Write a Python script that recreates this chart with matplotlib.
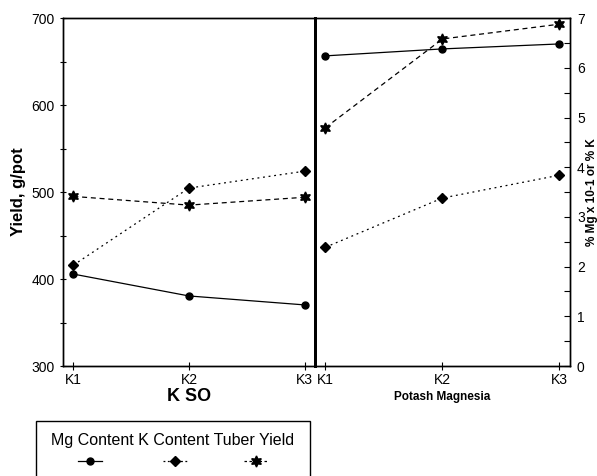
import matplotlib.pyplot as plt
from matplotlib.lines import Line2D
from matplotlib.patches import Rectangle
from matplotlib.ticker import MultipleLocator

plt.rcParams['font.family'] = ['Liberation Sans', 'DejaVu Sans']

niveles = ['K1', 'K2', 'K3']
x = [0, 1, 2]

# panel izquierdo: K SO
mg_kso = [1.85, 1.41, 1.23]
k_kso = [2.03, 3.58, 3.92]
tuber_kso = [495, 485, 494]

# panel derecho: Potash Magnesia
mg_pm = [6.24, 6.38, 6.48]
k_pm = [2.39, 3.38, 3.84]
tuber_pm = [574, 676, 693]

fig = plt.figure(figsize=(5.97, 4.76), dpi=100)
ax1 = fig.add_axes([0.1055, 0.231, 0.422, 0.731])
ax2 = fig.add_axes([0.5275, 0.231, 0.4273, 0.731])
t1 = ax1.twinx()
t2 = ax2.twinx()

estilos = dict(color='black', lw=0.9)
for ax, tw, mg, k, tub in [(ax1, t1, mg_kso, k_kso, tuber_kso), (ax2, t2, mg_pm, k_pm, tuber_pm)]:
    tw.plot(x, mg, '-', marker='o', ms=5, **estilos)
    tw.plot(x, k, linestyle=(0, (1.5, 3)), marker='D', ms=5.5, **estilos)
    ax.plot(x, tub, linestyle=(0, (4, 3)), marker=(6, 1, 0), ms=8, **estilos)
    ax.set_xlim(-0.09, 2.09)
    ax.set_ylim(300, 700)
    tw.set_ylim(0, 7)
    ax.set_xticks(x)
    ax.set_xticklabels(niveles, fontsize=10)
    ax.tick_params(axis='x', direction='inout', length=6, width=0.8, pad=2)
    for s in list(ax.spines.values()) + list(tw.spines.values()):
        s.set_linewidth(1.0)

# eje izquierdo
ax1.yaxis.set_major_locator(MultipleLocator(100))
ax1.yaxis.set_minor_locator(MultipleLocator(50))
ax1.tick_params(axis='y', which='both', direction='inout', length=5, width=0.8, labelsize=10)
ax1.set_ylabel('Yield, g/pot', fontsize=12, fontweight='bold', labelpad=4)
t1.set_yticks([])
t1.spines['right'].set_linewidth(2)

# eje derecho
ax2.set_yticks([])
ax2.spines['left'].set_linewidth(2)
t2.yaxis.set_major_locator(MultipleLocator(1))
t2.yaxis.set_minor_locator(MultipleLocator(0.5))
t2.tick_params(axis='y', which='both', direction='in', length=4, width=0.8, labelsize=10, pad=5)
t2.set_ylabel('% Mg x 10-1 or % K', fontsize=8.5, fontweight='bold', labelpad=1)

ax1.set_xlabel('K SO', fontsize=13, fontweight='bold', labelpad=1)
ax2.set_xlabel('Potash Magnesia', fontsize=8.5, fontweight='bold', labelpad=3)

# leyenda
fig.patches.append(Rectangle((36 / 597, -0.05), 274 / 597, 0.05 + 55 / 476,
                             transform=fig.transFigure, fill=False, lw=1.0, ec='black'))
fig.text(173 / 597, 1 - 440 / 476, 'Mg Content K Content Tuber Yield',
         ha='center', va='center', fontsize=11.5)
legend_items = [('-', 'o', 5, 90), ((0, (1.5, 2)), 'D', 5.5, 175), ((0, (2, 2)), (6, 1, 0), 8, 256)]
for ls, mk, ms, cx in legend_items:
    fig.lines.append(Line2D([(cx - 12) / 597, (cx + 12) / 597], [1 - 461 / 476] * 2,
                            transform=fig.transFigure, color='black', lw=0.9, linestyle=ls))
    fig.lines.append(Line2D([cx / 597], [1 - 461 / 476], transform=fig.transFigure,
                            color='black', marker=mk, ms=ms, linestyle='none'))

fig.savefig('out.png', dpi=100)
